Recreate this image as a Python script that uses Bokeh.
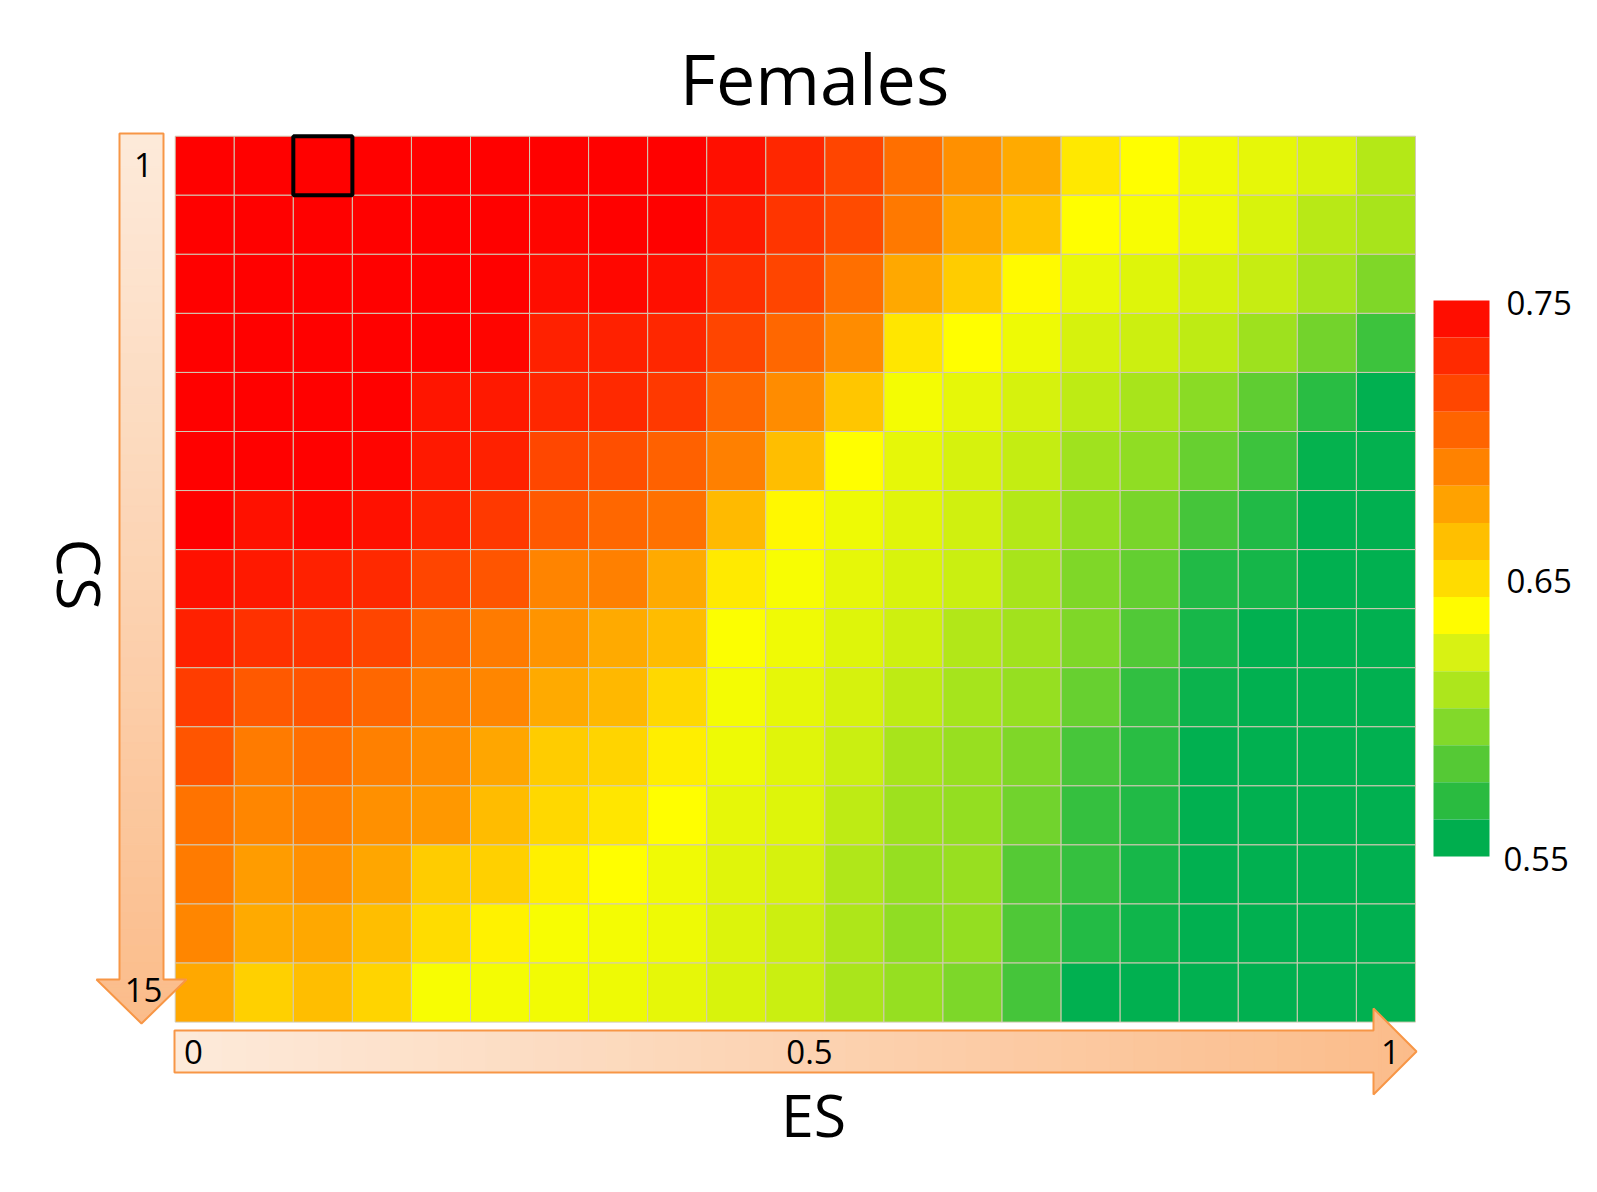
import numpy as np
from bokeh.plotting import figure
from bokeh.models import Range1d, ColumnDataSource, LinearColorMapper
from bokeh.transform import transform
from bokeh.core.properties import value
from bokeh.embed import file_html
from bokeh.resources import INLINE

# ---------------- data ----------------
title_text = "Females"
x_label = "ES"
y_label = "CS"

es_values = [0.00, 0.05, 0.10, 0.15, 0.20, 0.25, 0.30, 0.35, 0.40, 0.45, 0.50,
             0.55, 0.60, 0.65, 0.70, 0.75, 0.80, 0.85, 0.90, 0.95, 1.00]
cs_values = [1, 2, 3, 4, 5, 6, 7, 8, 9, 10, 11, 12, 13, 14, 15]

row_cs01 = [0.750, 0.750, 0.750, 0.750, 0.750, 0.750, 0.750, 0.750, 0.750, 0.744, 0.735, 0.723, 0.707, 0.693, 0.683, 0.659, 0.650, 0.644, 0.640, 0.635, 0.621]
row_cs02 = [0.750, 0.750, 0.750, 0.750, 0.750, 0.750, 0.748, 0.750, 0.750, 0.740, 0.729, 0.721, 0.703, 0.684, 0.673, 0.650, 0.647, 0.643, 0.635, 0.622, 0.616]
row_cs03 = [0.750, 0.750, 0.750, 0.750, 0.750, 0.750, 0.745, 0.747, 0.744, 0.732, 0.723, 0.707, 0.684, 0.670, 0.652, 0.642, 0.637, 0.633, 0.628, 0.615, 0.600]
row_cs04 = [0.750, 0.750, 0.750, 0.750, 0.750, 0.748, 0.737, 0.737, 0.735, 0.723, 0.710, 0.695, 0.660, 0.650, 0.643, 0.634, 0.630, 0.625, 0.612, 0.595, 0.574]
row_cs05 = [0.750, 0.750, 0.750, 0.750, 0.742, 0.740, 0.735, 0.734, 0.728, 0.710, 0.695, 0.672, 0.646, 0.640, 0.634, 0.625, 0.616, 0.604, 0.587, 0.566, 0.550]
row_cs06 = [0.750, 0.750, 0.750, 0.748, 0.740, 0.737, 0.722, 0.719, 0.712, 0.700, 0.675, 0.650, 0.640, 0.634, 0.627, 0.613, 0.607, 0.590, 0.574, 0.552, 0.551]
row_cs07 = [0.750, 0.743, 0.747, 0.743, 0.736, 0.728, 0.715, 0.710, 0.706, 0.677, 0.653, 0.643, 0.638, 0.632, 0.621, 0.608, 0.597, 0.577, 0.563, 0.550, 0.550]
row_cs08 = [0.743, 0.740, 0.737, 0.734, 0.723, 0.717, 0.698, 0.700, 0.683, 0.658, 0.647, 0.640, 0.635, 0.629, 0.616, 0.600, 0.589, 0.563, 0.558, 0.550, 0.550]
row_cs09 = [0.737, 0.731, 0.729, 0.723, 0.710, 0.702, 0.692, 0.683, 0.676, 0.649, 0.644, 0.637, 0.631, 0.620, 0.614, 0.600, 0.582, 0.559, 0.550, 0.550, 0.550]
row_cs10 = [0.726, 0.715, 0.717, 0.710, 0.701, 0.697, 0.683, 0.678, 0.665, 0.646, 0.640, 0.634, 0.625, 0.615, 0.609, 0.590, 0.569, 0.554, 0.550, 0.550, 0.550]
row_cs11 = [0.717, 0.702, 0.707, 0.700, 0.695, 0.685, 0.670, 0.667, 0.657, 0.643, 0.638, 0.629, 0.616, 0.610, 0.600, 0.578, 0.566, 0.550, 0.550, 0.550, 0.550]
row_cs12 = [0.705, 0.697, 0.700, 0.693, 0.690, 0.676, 0.665, 0.660, 0.650, 0.640, 0.637, 0.625, 0.612, 0.608, 0.594, 0.571, 0.563, 0.550, 0.550, 0.550, 0.550]
row_cs13 = [0.702, 0.689, 0.693, 0.685, 0.670, 0.668, 0.656, 0.650, 0.644, 0.638, 0.634, 0.619, 0.609, 0.610, 0.583, 0.571, 0.559, 0.550, 0.550, 0.550, 0.550]
row_cs14 = [0.697, 0.683, 0.684, 0.675, 0.664, 0.655, 0.647, 0.646, 0.643, 0.636, 0.630, 0.618, 0.607, 0.608, 0.581, 0.564, 0.556, 0.550, 0.550, 0.550, 0.550]
row_cs15 = [0.684, 0.668, 0.675, 0.667, 0.647, 0.646, 0.645, 0.643, 0.640, 0.635, 0.629, 0.617, 0.609, 0.599, 0.577, 0.550, 0.550, 0.550, 0.550, 0.550, 0.550]

rows = [row_cs01, row_cs02, row_cs03, row_cs04, row_cs05, row_cs06, row_cs07, row_cs08,
        row_cs09, row_cs10, row_cs11, row_cs12, row_cs13, row_cs14, row_cs15]

highlight_es = 0.10
highlight_cs = 1

x_tick_values = [0.0, 0.5, 1.0]
x_tick_labels = ["0", "0.5", "1"]
y_tick_values = [1, 15]
y_tick_labels = ["1", "15"]

scale_low = 0.55
scale_high = 0.75
cb_ticks = [0.75, 0.65, 0.55]
cb_tick_labels = ["0.75", "0.65", "0.55"]
# colour-bar bands, from low (green) to high (red)
cb_palette = ["#00AE4E", "#2ABB40", "#55C935", "#82D92A", "#ADE61C", "#D8F213",
              "#FFFC00", "#FFDC00", "#FFBF00", "#FFA200", "#FF8200", "#FF6400",
              "#FF4600", "#FF2A00", "#FF0D00"]

# ---------------- styles ----------------
FONT = value("Open Sans")
GRID_COLOR = "#D2CAB4"
ARROW_LINE = "#F79646"
ARROW_START = (0xFD, 0xEA, 0xDA)
ARROW_END = (0xFB, 0xBC, 0x8A)


def ramp(v):
    # 3-colour scale: green (low) -> yellow (mid) -> red (high)
    mid = (scale_low + scale_high) / 2
    if v >= mid:
        t = (v - mid) / (scale_high - mid)
        r, g, b = 255, 255 * (1 - t), 0
    else:
        t = (mid - v) / (mid - scale_low)
        r, g, b = 255 * (1 - t), 255 - (255 - 176) * t, 80 * t
    return "#%02X%02X%02X" % (int(round(r)), int(round(g)), int(round(b)))


N_PAL = 256
heat_palette = [ramp(scale_low + (k + 0.5) * (scale_high - scale_low) / N_PAL) for k in range(N_PAL)]
heat_mapper = LinearColorMapper(palette=heat_palette, low=scale_low, high=scale_high,
                                low_color=heat_palette[0], high_color=heat_palette[-1])
cb_mapper = LinearColorMapper(palette=cb_palette, low=scale_low, high=scale_high)

# ---------------- geometry (screen px -> data) ----------------
W, H = 1581, 1176
CELL_PX = 59.06
DES = es_values[1] - es_values[0]
HM_LEFT_PX, HM_TOP_PX = 174.7, 135.7
ES_LEFT = es_values[0] - DES / 2
CS_TOP = cs_values[0] - 0.5


def X(px):
    return ES_LEFT + (px - HM_LEFT_PX) * DES / CELL_PX


def Y(py):
    return CS_TOP + (py - HM_TOP_PX) / CELL_PX


p = figure(width=W, height=H, output_backend="svg", toolbar_location=None,
           x_range=Range1d(X(0), X(W)),
           y_range=Range1d(Y(H), Y(0)),
           x_axis_location=None, y_axis_location=None, min_border=0,
           outline_line_color=None, background_fill_color="white",
           border_fill_color="white")
p.xgrid.visible = False
p.ygrid.visible = False

# ---------------- heatmap ----------------
hx, hy, hv = [], [], []
for j, row in enumerate(rows):
    for i, v in enumerate(row):
        hx.append(es_values[i])
        hy.append(cs_values[j])
        hv.append(v)
src = ColumnDataSource(dict(es=hx, cs=hy, val=hv))
p.rect(x="es", y="cs", width=DES, height=1, source=src,
       fill_color=transform("val", heat_mapper), line_color=GRID_COLOR, line_width=1)

p.rect(x=[highlight_es], y=[highlight_cs], width=DES, height=1,
       fill_color=None, line_color="black", line_width=4)


# ---------------- arrows ----------------
def lerp_col(t):
    t = min(max(t, 0.0), 1.0)
    c = [int(round(a + (b - a) * t)) for a, b in zip(ARROW_START, ARROW_END)]
    return "#%02X%02X%02X" % tuple(c)


def arrow_strips(along0, base, tip, shaft_half, head_half, center, n1=50, n2=10):
    polys, cols = [], []
    L = tip - along0
    edges = list(np.linspace(along0, base, n1 + 1))
    for a, b in zip(edges[:-1], edges[1:]):
        polys.append(([a, b, b, a], [center - shaft_half, center - shaft_half,
                                     center + shaft_half, center + shaft_half]))
        cols.append(lerp_col(((a + b) / 2 - along0) / L))
    hedges = list(np.linspace(base, tip, n2 + 1))
    for a, b in zip(hedges[:-1], hedges[1:]):
        ha = head_half * (tip - a) / (tip - base)
        hb = head_half * (tip - b) / (tip - base)
        polys.append(([a, b, b, a], [center - ha, center - hb, center + hb, center + ha]))
        cols.append(lerp_col(((a + b) / 2 - along0) / L))
    return polys, cols


# vertical arrow (CS)
VA = dict(along0=133, base=979, tip=1023, shaft_half=22, head_half=45, center=141)
polys, cols = arrow_strips(**VA)
p.patches(xs=[[X(c) for c in ac] for (al, ac) in polys], ys=[[Y(a) for a in al] for (al, ac) in polys],
          fill_color=cols, line_color=cols, line_width=1)
vx = [119, 163, 163, 186, 141, 96, 119]
vy = [133, 133, 979, 979, 1023, 979, 979]
p.patch([X(v) for v in vx], [Y(v) for v in vy], fill_color=None, line_color=ARROW_LINE, line_width=2)

# horizontal arrow (ES)
HA = dict(along0=174, base=1373, tip=1416, shaft_half=21, head_half=43, center=1051)
polys, cols = arrow_strips(**HA)
p.patches(xs=[[X(a) for a in al] for (al, ac) in polys], ys=[[Y(c) for c in ac] for (al, ac) in polys],
          fill_color=cols, line_color=cols, line_width=1)
hxp = [174, 1373, 1373, 1416, 1373, 1373, 174]
hyp = [1030, 1030, 1008, 1051, 1094, 1072, 1072]
p.patch([X(v) for v in hxp], [Y(v) for v in hyp], fill_color=None, line_color=ARROW_LINE, line_width=2)

# tick labels in arrows
p.text(x=[X(143)] * len(y_tick_values), y=[Y(164.5), Y(989.5)], text=y_tick_labels,
       text_font=FONT, text_font_size="33px", text_align="center",
       text_baseline="middle", text_color="black")
p.text(x=[X(193), X(809), X(1390)], y=[Y(1051)] * len(x_tick_values), text=x_tick_labels,
       text_font=FONT, text_font_size="33px", text_align="center",
       text_baseline="middle", text_color="black")

# ---------------- colour bar ----------------
CB_X0, CB_X1, CB_Y0, CB_Y1 = 1433, 1489, 300, 856
nb = len(cb_palette)
band_px = (CB_Y1 - CB_Y0) / nb
step = (scale_high - scale_low) / nb
cb_vals = [scale_high - (k + 0.5) * step for k in range(nb)]
cb_src = ColumnDataSource(dict(
    left=[X(CB_X0)] * nb, right=[X(CB_X1)] * nb,
    top=[Y(CB_Y0 + k * band_px) for k in range(nb)],
    bottom=[Y(CB_Y0 + (k + 1) * band_px) for k in range(nb)],
    val=cb_vals))
p.quad(left="left", right="right", top="top", bottom="bottom", source=cb_src,
       fill_color=transform("val", cb_mapper), line_color=None)
cb_label_y = [Y(CB_Y0 + 2 + (scale_high - t) / (scale_high - scale_low) * (CB_Y1 - CB_Y0)) for t in cb_ticks]
p.text(x=[X(1506), X(1506), X(1503)], y=cb_label_y, text=cb_tick_labels,
       text_font=FONT, text_font_size="33px", text_align="left",
       text_baseline="middle", text_color="black")

# ---------------- titles ----------------
p.text(x=[X(814)], y=[Y(77)], text=[title_text], text_font=FONT, text_font_size="70px",
       text_align="center", text_baseline="middle", text_color="black")
p.text(x=[X(813)], y=[Y(1113)], text=[x_label], text_font=FONT, text_font_size="59px",
       text_align="center", text_baseline="middle", text_color="black")
p.text(x=[X(80)], y=[Y(574)], text=[y_label], text_font=FONT, text_font_size="61px",
       text_align="center", text_baseline="middle", angle=-np.pi / 2, text_color="black")

open("out.html", "w").write(file_html(p, INLINE))
